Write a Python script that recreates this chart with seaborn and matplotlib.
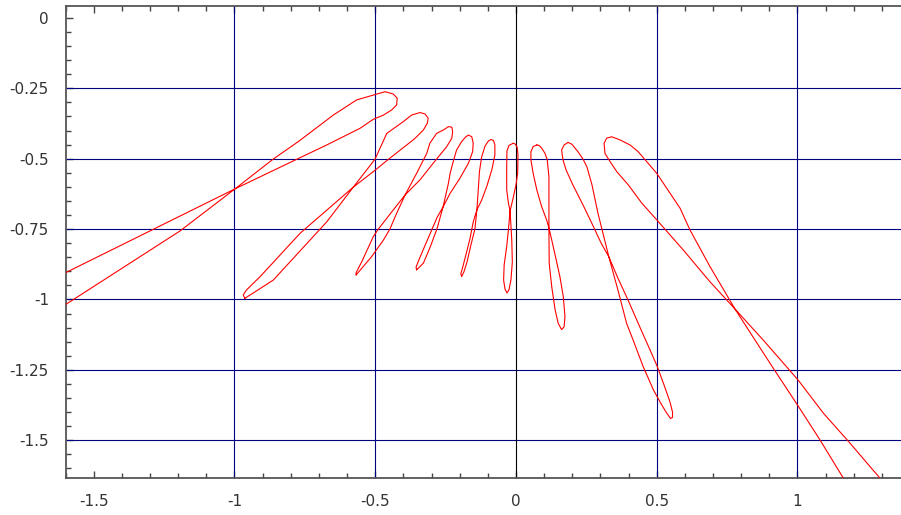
import numpy as np
import pandas as pd
import matplotlib
matplotlib.use("Agg")
import matplotlib.pyplot as plt
from matplotlib.ticker import MultipleLocator
import seaborn as sns

# ---- data: nine closed (x, y) curves, left to right ----
curve_1 = [(-1.673, -1.065), (-1.194, -0.757), (-0.998, -0.607), (-0.862, -0.501),
           (-0.773, -0.439), (-0.649, -0.345), (-0.566, -0.291), (-0.507, -0.274),
           (-0.465, -0.262), (-0.436, -0.270), (-0.422, -0.285), (-0.424, -0.309),
           (-0.442, -0.327), (-0.471, -0.345), (-0.507, -0.360), (-0.554, -0.392),
           (-0.672, -0.451), (-0.779, -0.502), (-0.998, -0.607), (-1.673, -0.941)]

curve_2 = [(-0.963, -0.996), (-0.862, -0.931), (-0.672, -0.724), (-0.578, -0.601),
           (-0.501, -0.502), (-0.459, -0.410), (-0.400, -0.368), (-0.371, -0.345),
           (-0.341, -0.336), (-0.323, -0.341), (-0.312, -0.356), (-0.315, -0.374),
           (-0.329, -0.398), (-0.353, -0.422), (-0.365, -0.433), (-0.448, -0.498),
           (-0.507, -0.546), (-0.578, -0.601), (-0.767, -0.765), (-0.909, -0.919),
           (-0.957, -0.966), (-0.969, -0.984), (-0.963, -0.996)]

curve_3 = [(-0.568, -0.913), (-0.513, -0.848), (-0.471, -0.789), (-0.448, -0.750),
           (-0.424, -0.694), (-0.394, -0.629), (-0.353, -0.552), (-0.317, -0.481),
           (-0.306, -0.445), (-0.282, -0.410), (-0.258, -0.398), (-0.240, -0.386),
           (-0.228, -0.388), (-0.225, -0.404), (-0.228, -0.427), (-0.246, -0.457),
           (-0.294, -0.516), (-0.341, -0.575), (-0.394, -0.629), (-0.436, -0.682),
           (-0.489, -0.750), (-0.507, -0.777), (-0.548, -0.866), (-0.568, -0.905),
           (-0.568, -0.913)]

curve_4 = [(-0.353, -0.895), (-0.329, -0.871), (-0.306, -0.817), (-0.281, -0.750),
           (-0.259, -0.671), (-0.240, -0.587), (-0.234, -0.552), (-0.223, -0.510),
           (-0.211, -0.469), (-0.193, -0.439), (-0.178, -0.422), (-0.169, -0.416),
           (-0.157, -0.422), (-0.152, -0.445), (-0.154, -0.475), (-0.169, -0.516),
           (-0.199, -0.569), (-0.234, -0.623), (-0.259, -0.671), (-0.281, -0.710),
           (-0.298, -0.750), (-0.327, -0.817), (-0.348, -0.867), (-0.355, -0.885),
           (-0.353, -0.895)]

curve_5 = [(-0.193, -0.918), (-0.185, -0.902), (-0.174, -0.867), (-0.160, -0.806),
           (-0.146, -0.750), (-0.139, -0.682), (-0.134, -0.611), (-0.130, -0.547),
           (-0.122, -0.494), (-0.110, -0.455), (-0.098, -0.437), (-0.089, -0.432),
           (-0.080, -0.435), (-0.075, -0.451), (-0.075, -0.487), (-0.086, -0.540),
           (-0.104, -0.599), (-0.122, -0.647), (-0.139, -0.682), (-0.152, -0.725),
           (-0.163, -0.782), (-0.178, -0.842), (-0.190, -0.888), (-0.196, -0.909),
           (-0.193, -0.918)]

curve_6 = [(-0.010, -0.445), (-0.025, -0.453), (-0.032, -0.472), (-0.033, -0.522),
           (-0.033, -0.611), (-0.027, -0.657), (-0.021, -0.686), (-0.027, -0.753),
           (-0.033, -0.812), (-0.042, -0.877), (-0.044, -0.931), (-0.039, -0.963),
           (-0.032, -0.977), (-0.025, -0.966), (-0.018, -0.931), (-0.013, -0.867),
           (-0.015, -0.789), (-0.021, -0.686), (-0.010, -0.639), (0.000, -0.593),
           (0.006, -0.551), (0.007, -0.487), (0.004, -0.458), (-0.004, -0.447),
           (-0.010, -0.445)]

curve_7 = [(0.074, -0.451), (0.061, -0.457), (0.053, -0.475), (0.053, -0.504),
           (0.061, -0.552), (0.074, -0.611), (0.091, -0.670), (0.109, -0.718),
           (0.117, -0.746), (0.127, -0.789), (0.139, -0.842), (0.156, -0.919),
           (0.168, -0.990), (0.174, -1.061), (0.171, -1.097), (0.162, -1.107),
           (0.150, -1.085), (0.139, -1.037), (0.127, -0.955), (0.118, -0.871),
           (0.117, -0.753), (0.117, -0.564), (0.111, -0.504), (0.103, -0.481),
           (0.091, -0.462), (0.082, -0.453), (0.074, -0.451)]

curve_8 = [(0.185, -0.442), (0.171, -0.451), (0.162, -0.469), (0.167, -0.504),
           (0.178, -0.540), (0.202, -0.593), (0.238, -0.664), (0.274, -0.739),
           (0.302, -0.799), (0.330, -0.849), (0.362, -0.924), (0.398, -1.002),
           (0.440, -1.098), (0.476, -1.179), (0.501, -1.236), (0.526, -1.304),
           (0.547, -1.364), (0.556, -1.400), (0.556, -1.419), (0.549, -1.423),
           (0.533, -1.400), (0.518, -1.375), (0.488, -1.321), (0.452, -1.239),
           (0.416, -1.144), (0.393, -1.085), (0.362, -0.966), (0.330, -0.849),
           (0.306, -0.753), (0.291, -0.693), (0.270, -0.593), (0.252, -0.529),
           (0.238, -0.501), (0.220, -0.475), (0.199, -0.449), (0.185, -0.442)]

curve_9 = [(1.210, -1.712), (1.163, -1.635), (1.080, -1.499), (1.002, -1.378),
           (0.902, -1.226), (0.778, -1.034), (0.689, -0.883), (0.618, -0.753),
           (0.583, -0.676), (0.500, -0.552), (0.434, -0.475), (0.405, -0.451),
           (0.369, -0.433), (0.340, -0.422), (0.322, -0.427), (0.313, -0.445),
           (0.316, -0.481), (0.334, -0.510), (0.358, -0.546), (0.399, -0.593),
           (0.447, -0.658), (0.506, -0.724), (0.594, -0.824), (0.689, -0.937),
           (0.778, -1.034), (0.879, -1.145), (1.002, -1.286), (1.092, -1.404),
           (1.187, -1.511), (1.293, -1.635), (1.360, -1.712)]

curves = [curve_1, curve_2, curve_3, curve_4, curve_5,
          curve_6, curve_7, curve_8, curve_9]

# ---- axes furniture ----
x_ticks = [-1.5, -1.0, -0.5, 0.0, 0.5, 1.0]
x_tick_labels = ["-1.5", "-1", "-0.5", "0", "0.5", "1"]
y_ticks = [0.0, -0.25, -0.5, -0.75, -1.0, -1.25, -1.5]
y_tick_labels = ["0", "-0.25", "-0.5", "-0.75", "-1", "-1.25", "-1.5"]
x_grid = [-1.0, -0.5, 0.5, 1.0]
y_grid = [-0.25, -0.5, -0.75, -1.0, -1.25, -1.5]
x_axis_line = 0.0

rows = []
for k, pts in enumerate(curves):
    for i, (x, y) in enumerate(pts):
        rows.append({"curve": k, "order": i, "x": x, "y": y})
df = pd.DataFrame(rows)

sns.set_style("white")
plt.rcParams["font.family"] = ["DejaVu Sans"]
plt.rcParams["axes.unicode_minus"] = False

fig = plt.figure(figsize=(9.01, 5.15), dpi=100)
ax = fig.add_axes([0.0728, 0.0709, 0.9272, 0.9175])

for gx in x_grid:
    ax.axvline(gx, color="#000080", lw=0.8, zorder=1)
for gy in y_grid:
    ax.axhline(gy, color="#000080", lw=0.8, zorder=1)
ax.axvline(x_axis_line, color="black", lw=0.8, zorder=1)

sns.lineplot(data=df, x="x", y="y", units="curve", estimator=None, sort=False,
             color="#ff0000", lw=0.8, ax=ax, zorder=3, legend=False)

ax.set_xlim(-1.6, 1.3677)
ax.set_ylim(-1.636, 0.0426)

ax.set_xticks(x_ticks)
ax.set_xticklabels(x_tick_labels)
ax.set_yticks(y_ticks)
ax.set_yticklabels(y_tick_labels)
ax.xaxis.set_minor_locator(MultipleLocator(0.1))
ax.yaxis.set_minor_locator(MultipleLocator(0.05))

ax.tick_params(axis="both", which="both", direction="in", color="#444444",
               labelcolor="#333333", labelsize=11)
ax.tick_params(axis="x", which="both", top=True, bottom=True, pad=11)
ax.tick_params(axis="y", which="both", left=True, right=False, pad=12)
ax.tick_params(which="major", length=5, width=1)
ax.tick_params(which="minor", length=3.5, width=1)

ax.set_xlabel("")
ax.set_ylabel("")
for side in ["left", "top", "bottom"]:
    ax.spines[side].set_color("#555555")
    ax.spines[side].set_linewidth(1.3)
ax.spines["right"].set_visible(False)

fig.savefig("out.png", dpi=100)
